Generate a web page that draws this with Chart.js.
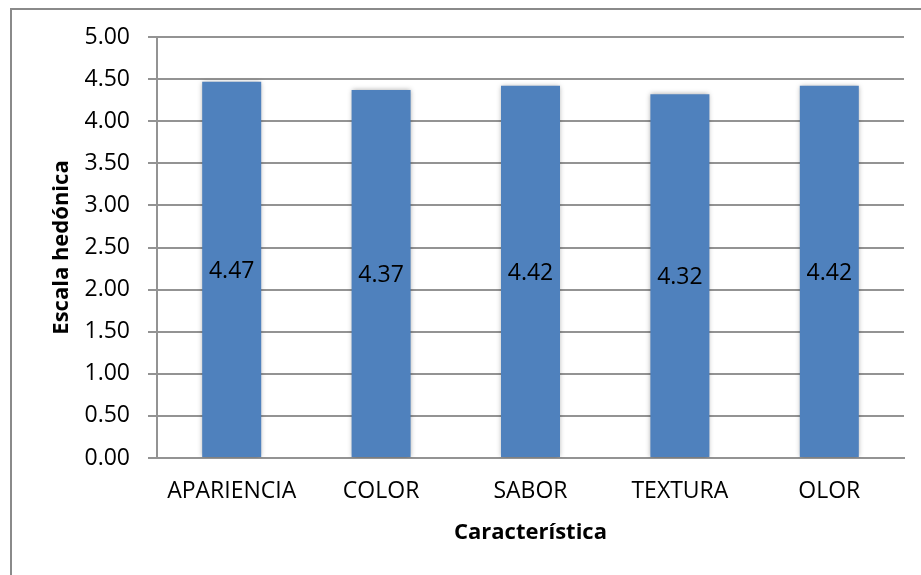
<!DOCTYPE html>
<html>
<head>
<meta charset="utf-8">
<script src="https://cdn.jsdelivr.net/npm/chart.js@4"></script>
<style>
  html, body { margin: 0; padding: 0; background: #fff; }
  #wrap { width: 921px; height: 575px; }
</style>
</head>
<body>
<div id="wrap"><canvas id="chart" width="921" height="575"></canvas></div>
<script>
// Puntajes promedio por característica
const categories = ["APARIENCIA", "COLOR", "SABOR", "TEXTURA", "OLOR"];
const scores = [4.47, 4.37, 4.42, 4.32, 4.42];
const yTicks = [0, 0.5, 1, 1.5, 2, 2.5, 3, 3.5, 4, 4.5, 5];

const FONT = "'Open Sans', 'Liberation Sans', sans-serif";
const GRID = "#939393";

// marco exterior del gráfico
const framePlugin = {
  id: "frame",
  beforeDraw(chart) {
    const c = chart.ctx;
    c.save();
    c.strokeStyle = "#8a8a8a";
    c.lineWidth = 2;
    c.strokeRect(11, 9, 1000, 1000);
    c.restore();
  }
};

// sombra suave alrededor de las barras
const shadowPlugin = {
  id: "barShadow",
  beforeDatasetsDraw(chart) {
    const c = chart.ctx;
    c.save();
    c.shadowColor = "rgba(0,0,0,0.35)";
    c.shadowBlur = 5;
    c.shadowOffsetX = 0;
    c.shadowOffsetY = 0;
  },
  afterDatasetsDraw(chart) {
    chart.ctx.restore();
  }
};

// valores dentro de cada barra
const valueLabels = {
  id: "valueLabels",
  afterDatasetsDraw(chart) {
    const c = chart.ctx;
    const meta = chart.getDatasetMeta(0);
    c.save();
    c.font = "23px " + FONT;
    c.fillStyle = "#000";
    c.textAlign = "center";
    c.textBaseline = "middle";
    meta.data.forEach((bar, i) => {
      const v = chart.data.datasets[0].data[i];
      c.fillText(v.toFixed(2), bar.x, (bar.y + bar.base) / 2 + 2);
    });
    c.restore();
  }
};

new Chart(document.getElementById("chart").getContext("2d"), {
  type: "bar",
  data: {
    labels: categories,
    datasets: [{
      data: scores,
      backgroundColor: "#4f81bd",
      borderWidth: 0,
      categoryPercentage: 1,
      barPercentage: 0.395
    }]
  },
  options: {
    responsive: false,
    animation: false,
    events: [],
    layout: { padding: { left: 10, top: 37, right: 17, bottom: 10 } },
    plugins: { legend: { display: false }, tooltip: { enabled: false } },
    scales: {
      x: {
        grid: { display: false, drawTicks: false },
        border: { display: true, color: GRID, width: 2 },
        ticks: { color: "#000", font: { family: FONT, size: 23 }, padding: 20 },
        title: {
          display: true,
          text: "Característica",
          color: "#000",
          font: { family: FONT, size: 22, weight: "bold" },
          padding: { top: 0, bottom: 19 }
        },
        afterFit(scale) { scale.height = 575 - 458 - 10; }
      },
      y: {
        min: 0,
        max: 5,
        afterBuildTicks(scale) { scale.ticks = yTicks.map(v => ({ value: v })); },
        grid: { color: GRID, lineWidth: 2, tickLength: 9, drawTicks: true },
        border: { display: true, color: GRID, width: 2 },
        ticks: {
          color: "#000",
          font: { family: FONT, size: 23 },
          padding: 18,
          callback: v => Number(v).toFixed(2)
        },
        title: {
          display: true,
          text: "Escala hedónica",
          color: "#000",
          font: { family: FONT, size: 22, weight: "bold" },
          padding: { top: 39, bottom: 0 }
        },
        afterFit(scale) { scale.width = 157 - 10; }
      }
    }
  },
  plugins: [framePlugin, shadowPlugin, valueLabels]
});
</script>
</body>
</html>
